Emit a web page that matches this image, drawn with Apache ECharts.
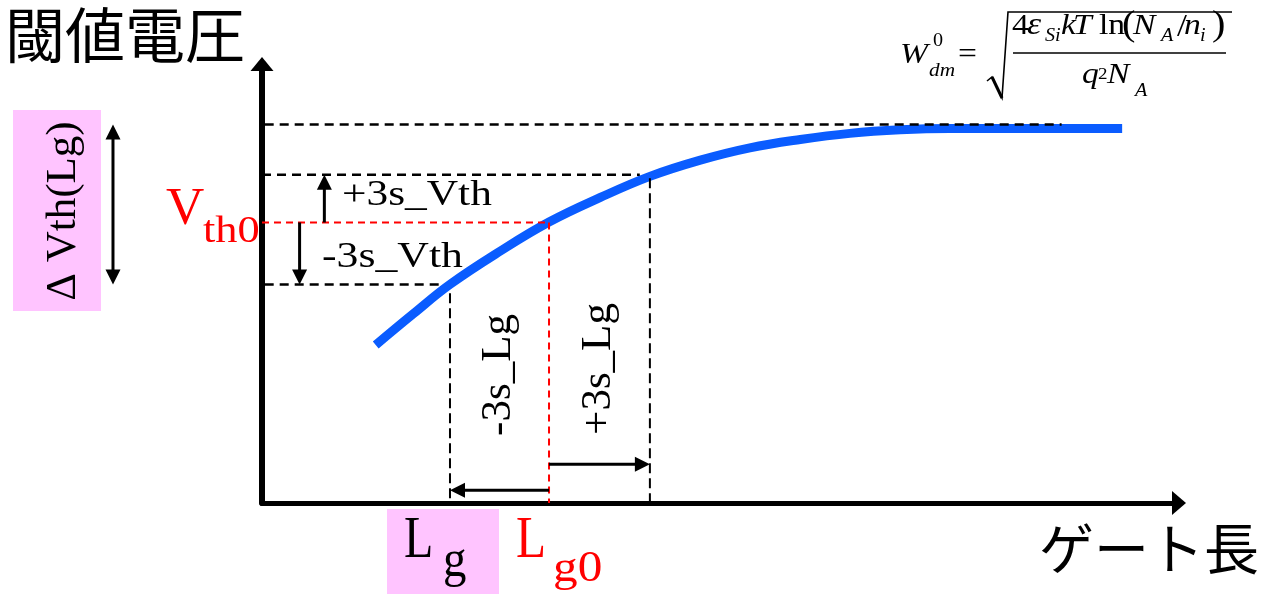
<!DOCTYPE html>
<html>
<head>
<meta charset="utf-8">
<script src="https://cdn.jsdelivr.net/npm/echarts@6/dist/echarts.min.js"></script>
<style>
  html, body { margin: 0; padding: 0; background: #fff; }
  #chart { width: 1266px; height: 594px; }
</style>
</head>
<body>
<div id="chart"></div>
<script>
// Threshold-voltage roll-off against gate length (arbitrary units, 0..100 on both axes)
const gateLength       = [12.4, 16.5, 20.5, 26.0, 31.3, 36.9, 42.3, 47.8, 53.2, 58.7, 64.1, 69.6, 75.0, 80.5, 93.8];
const thresholdVoltage = [36.0, 43.1, 49.8, 57.4, 64.0, 69.6, 74.4, 78.1, 80.9, 82.8, 84.2, 85.0, 85.3, 85.3, 85.3];

// Voltage levels
const vthMax     = 86.2;
const vthPlus3s  = 74.8;
const vth0       = 63.9;
const vthMinus3s = 49.8;

// Gate-length marks
const lgMinus3s = 20.5;
const lg0       = 31.3;
const lgPlus3s  = 42.3;

// Axis titles
const yTitle = '閾値電圧';
const xTitle = 'ゲート長';

const SERIF = '"Liberation Serif", "Times New Roman", serif';
const CJK = '"Noto Sans CJK JP", "Noto Sans CJK SC", sans-serif';
const BLUE = '#0a5cff';
const RED = '#ff0000';
const PINK = '#ffc4ff';

const chart = echarts.init(document.getElementById('chart'), null, { renderer: 'canvas' });

// dashed guide line as a two-point line series
function guide(points, color, width, dash) {
  return {
    type: 'line',
    data: points,
    symbol: 'none',
    clip: false,
    silent: true,
    animation: false,
    z: 3,
    lineStyle: { color: color, width: width, type: dash }
  };
}

// text placed by its baseline (or by its centre when o.center is set)
function txt(str, x, base, fs, o) {
  o = o || {};
  const font = (o.italic ? 'italic ' : '') + fs + 'px ' + (o.family || SERIF);
  return {
    type: 'text',
    x: x,
    y: o.center ? base : base - 0.34 * fs,
    rotation: o.rot || 0,
    scaleX: o.sx || 1,
    scaleY: o.sy || 1,
    z: 100,
    style: {
      text: str,
      font: font,
      fill: o.color || '#000',
      textAlign: o.align || 'left',
      align: o.align || 'left',
      textVerticalAlign: 'middle',
      verticalAlign: 'middle'
    }
  };
}

// formula glyph: slightly widened serif
function fx(str, x, base, fs, italic) {
  return txt(str, x, base, fs, { italic: italic, sx: 1.12 });
}

// arrows: [x1, y1, x2(tip), y2(tip), doubleHeaded]
const arrows = [
  [-16.25, vthMinus3s, -16.25, vthMax, 1],
  [6.8, vth0, 6.8, vthPlus3s, 0],
  [4.1, vth0, 4.1, vthMinus3s, 0],
  [lg0, 2.9, lgMinus3s, 2.9, 0],
  [lg0, 8.8, lgPlus3s, 8.8, 0]
];

function renderArrow(params, api) {
  const a = api.coord([api.value(0), api.value(1)]);
  const b = api.coord([api.value(2), api.value(3)]);
  const both = api.value(4) === 1;
  const L = 15, W = 7.5;
  const dx = b[0] - a[0], dy = b[1] - a[1];
  const len = Math.hypot(dx, dy);
  const ux = dx / len, uy = dy / len;
  const head = (tip, sx, sy) => ({
    type: 'polygon',
    shape: { points: [
      [tip[0], tip[1]],
      [tip[0] - sx * L - sy * W, tip[1] - sy * L + sx * W],
      [tip[0] - sx * L + sy * W, tip[1] - sy * L - sx * W]
    ] },
    style: { fill: '#000' }
  });
  const start = both ? [a[0] + ux * (L - 2), a[1] + uy * (L - 2)] : a;
  const end = [b[0] - ux * (L - 2), b[1] - uy * (L - 2)];
  const children = [
    { type: 'line', shape: { x1: start[0], y1: start[1], x2: end[0], y2: end[1] },
      style: { stroke: '#000', lineWidth: 3 } },
    head(b, ux, uy)
  ];
  if (both) children.push(head(a, -ux, -uy));
  return { type: 'group', children: children };
}

const blackDash = [9, 6];
const redDash = [7, 5];

const option = {
  backgroundColor: '#fff',
  animation: false,
  grid: { left: 262, right: 87, top: 64, bottom: 91 },
  xAxis: {
    type: 'value', min: 0, max: 100,
    axisLine: { show: true, onZero: false, symbol: ['none', 'triangle'], symbolSize: [24, 14],
      lineStyle: { color: '#000', width: 5 } },
    axisTick: { show: false }, axisLabel: { show: false }, splitLine: { show: false }
  },
  yAxis: {
    type: 'value', min: 0, max: 100,
    axisLine: { show: true, onZero: false, symbol: ['none', 'triangle'], symbolSize: [23, 14],
      lineStyle: { color: '#000', width: 6 } },
    axisTick: { show: false }, axisLabel: { show: false }, splitLine: { show: false }
  },
  series: [
    {
      type: 'line',
      data: gateLength.map((x, i) => [x, thresholdVoltage[i]]),
      smooth: 0.4,
      symbol: 'none',
      silent: true,
      z: 2,
      lineStyle: { color: BLUE, width: 9, cap: 'butt', join: 'round' }
    },
    // horizontal guides
    guide([[-17.7, vthMax], [87.2, vthMax]], '#000', 2.5, blackDash),
    guide([[0, vthPlus3s], [41.2, vthPlus3s]], '#000', 2.5, blackDash),
    guide([[0, vth0], [lg0, vth0]], RED, 2, redDash),
    guide([[-17.7, vthMinus3s], [19.4, vthMinus3s]], '#000', 2.5, blackDash),
    // vertical guides
    guide([[lgMinus3s, 47.8], [lgMinus3s, 0]], '#000', 2, [10, 5]),
    guide([[lg0, vth0], [lg0, 0]], RED, 2, redDash),
    guide([[lgPlus3s, 74.0], [lgPlus3s, 0]], '#000', 2, [10, 5]),
    {
      type: 'custom',
      data: arrows,
      renderItem: renderArrow,
      clip: false,
      silent: true,
      z: 4,
      encode: { x: [0, 2], y: [1, 3] }
    }
  ],
  graphic: [
    // highlight boxes
    { type: 'rect', shape: { x: 13, y: 110, width: 88, height: 201 }, style: { fill: PINK }, z: 0 },
    { type: 'rect', shape: { x: 387, y: 509, width: 112, height: 85 }, style: { fill: PINK }, z: 0 },

    // axis titles
    txt(yTitle, 5, 35, 60, { family: CJK, center: true }),
    txt(xTitle, 1039, 548, 55, { family: CJK, center: true }),

    // voltage annotations
    txt('Δ Vth(Lg)', 64, 211, 43, { rot: Math.PI / 2, align: 'center', center: true }),
    txt('V', 166, 228, 53, { color: RED }),
    txt('th0', 203, 245, 37, { color: RED, sx: 1.2 }),
    txt('+3s_Vth', 342, 208, 35, { sx: 1.24 }),
    txt('-3s_Vth', 322, 270, 35, { sx: 1.25 }),

    // gate-length annotations
    txt('-3s_Lg', 499, 375, 43, { rot: Math.PI / 2, align: 'center', center: true }),
    txt('+3s_Lg', 599, 369, 43, { rot: Math.PI / 2, align: 'center', center: true }),
    txt('L', 404, 562, 60, { sx: 0.8 }),
    txt('g', 443, 580, 52, { sx: 0.9 }),
    txt('L', 516, 562, 60, { color: RED, sx: 0.82 }),
    txt('g0', 553, 584, 44, { color: RED, sx: 1.12 }),

    // depletion-width formula
    fx('W', 900, 65, 30, true),
    fx('0', 933, 47, 18, false),
    fx('dm', 929, 77, 19, true),
    fx('=', 958, 65, 30, false),
    { type: 'polyline', shape: { points: [[987, 81], [992, 77], [1002, 98], [1008, 12], [1232, 12]] },
      style: { stroke: '#000', lineWidth: 1.6, fill: null }, z: 100 },
    { type: 'polyline', shape: { points: [[992, 77], [1002, 98]] },
      style: { stroke: '#000', lineWidth: 3, fill: null }, z: 100 },
    { type: 'line', shape: { x1: 1013, y1: 53, x2: 1226, y2: 53 },
      style: { stroke: '#000', lineWidth: 1.5 }, z: 100 },
    fx('4', 1012, 36, 30, false),
    fx('ε', 1027, 36, 32, true),
    fx('Si', 1045, 42, 18, true),
    fx('k', 1061, 36, 30, true),
    fx('T', 1073, 36, 30, true),
    fx('ln', 1099, 36, 30, false),
    fx('(', 1122, 38, 36, false),
    fx('N', 1133, 36, 30, true),
    fx('A', 1161, 42, 18, true),
    fx('/', 1177, 38, 32, false),
    fx('n', 1184, 36, 30, true),
    fx('i', 1200, 42, 18, true),
    fx(')', 1212, 38, 36, false),
    fx('q', 1082, 85, 30, true),
    fx('2', 1098, 80, 17, false),
    fx('N', 1107, 85, 30, true),
    fx('A', 1135, 97, 18, true)
  ]
};

chart.setOption(option);
</script>
</body>
</html>
